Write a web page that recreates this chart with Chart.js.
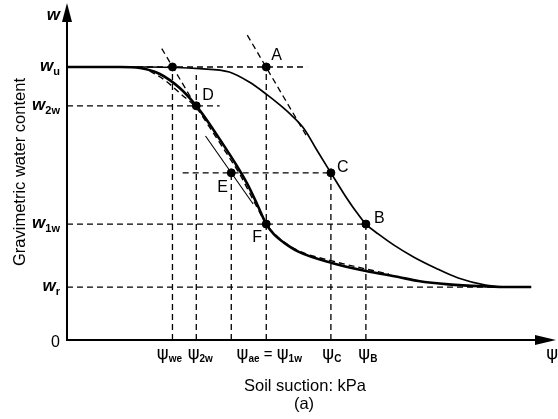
<!DOCTYPE html>
<html>
<head>
<meta charset="utf-8">
<script src="https://cdn.jsdelivr.net/npm/chart.js@4"></script>
<style>
  html, body { margin: 0; padding: 0; background: #fff; }
  canvas { display: block; }
</style>
</head>
<body>
<canvas id="swcc" width="558" height="419"></canvas>
<script>
// axis ticks (schematic units, 0..100 on both axes)
const psiTicks = [21.7, 26.6, 41.0, 54.3, 61.5, 100];
const psiLabels = ['ψ_{we}', 'ψ_{2w}', 'ψ_{ae} = ψ_{1w}', 'ψ_{C}', 'ψ_{B}', 'ψ'];
const wTicks = [0, 15.8, 34.6, 69.9, 81.5, 100];
const wLabels = ['0', 'w_{r}', 'w_{1w}', 'w_{2w}', 'w_{u}', 'w'];

// drying (desorption) curve
const dryX = [0, 17, 27.3, 33.4, 37.5, 41.0, 43.6, 46.1, 48.8, 51.4, 54.3, 57.0, 59.4, 61.5, 64.1, 67.2, 71.3, 75.8, 80.5, 86.1, 90.8, 95.5];
const dryY = [81.5, 81.5, 81.0, 80.0, 77.0, 73.4, 70.4, 67.2, 63.0, 56.7, 49.9, 43.6, 38.5, 34.6, 31.6, 28.4, 24.8, 21.5, 18.5, 16.4, 15.8, 15.8];

// wetting (adsorption) curve
const wetX = [0, 10.9, 15.0, 19.1, 23.2, 26.6, 28.9, 31.8, 34.6, 37.1, 39.1, 41.0, 42.6, 44.7, 47.7, 54.5, 61.5, 68.2, 72.3, 78.5, 86.1, 90.8, 95.5];
const wetY = [81.5, 81.5, 81.2, 79.4, 75.2, 69.9, 65.4, 59.1, 52.8, 46.6, 40.6, 34.6, 31.5, 29.0, 26.3, 23.0, 20.6, 18.8, 17.6, 16.6, 16.0, 15.8, 15.8];

// dashed fitted wetting curve
const fitX = [17.0, 20.1, 23.2, 26.6, 29.3, 32.4, 35.5, 37.9, 39.5, 41.0, 44.3, 47.7, 54.5, 61.5, 66.2];
const fitY = [80.3, 77.6, 73.7, 69.3, 63.6, 56.7, 49.6, 43.0, 38.5, 34.6, 29.6, 26.6, 23.6, 21.2, 19.7];

// tangent lines
const tangentWeX = [19.5, 25.8];
const tangentWeY = [87.0, 71.6];
const tangentAX = [37.1, 49.4];
const tangentAY = [91.0, 60.6];
const chordEX = [28.5, 38.3];
const chordEY = [60.9, 40.6];

// dashed guide lines
const hGuideY = [81.5, 69.9, 49.9, 34.6, 15.8];
const hGuideFrom = [0, 0, 23.8, 0, 0];
const hGuideTo = [49.4, 31.4, 54.3, 61.5, 95.5];
const vGuideX = [21.7, 26.6, 33.8, 41.0, 54.3, 61.5];
const vGuideTop = [81.5, 79.1, 49.9, 81.5, 49.9, 34.6];

// marked points
const pointNames = ['', 'A', 'D', 'E', 'C', 'F', 'B'];
const pointX = [21.7, 41.0, 26.6, 33.8, 54.3, 41.0, 61.5];
const pointY = [81.5, 81.5, 69.9, 49.9, 49.9, 34.6, 34.6];

const labelOffset = { A: [5, -7], D: [6, -6], E: [-14, 19], C: [6, -1], F: [-14, 18], B: [8, -1] };
const psiNudge = [-3, 4, 3, 1, 2, 0];
const FONT = '"Liberation Sans", Arial, sans-serif';
const PSI_FONT = '18px "DejaVu Sans", ' + FONT;

const toPts = (xs, ys) => xs.map((v, i) => ({ x: v, y: ys[i] }));

const dashed = (data) => ({
    data, showLine: true, pointRadius: 0, borderColor: '#000', borderWidth: 1.3,
    borderDash: [6, 4], fill: false, order: 5
});

const datasets = [];
hGuideY.forEach((lv, i) => datasets.push(dashed([{ x: hGuideFrom[i], y: lv }, { x: hGuideTo[i], y: lv }])));
vGuideX.forEach((xv, i) => datasets.push(dashed([{ x: xv, y: 0 }, { x: xv, y: vGuideTop[i] }])));
datasets.push(dashed(toPts(tangentWeX, tangentWeY)));
datasets.push(dashed(toPts(tangentAX, tangentAY)));
datasets.push({ ...dashed(toPts(fitX, fitY)), cubicInterpolationMode: 'monotone', borderWidth: 1.4, order: 3 });
datasets.push({
    data: toPts(chordEX, chordEY), showLine: true, pointRadius: 0,
    borderColor: '#000', borderWidth: 1.1, order: 4
});
datasets.push({
    data: toPts(dryX, dryY), showLine: true, pointRadius: 0, borderColor: '#000',
    borderWidth: 1.7, cubicInterpolationMode: 'monotone', order: 2
});
datasets.push({
    data: toPts(wetX, wetY), showLine: true, pointRadius: 0, borderColor: '#000',
    borderWidth: 2.6, cubicInterpolationMode: 'monotone', order: 2
});
datasets.push({
    data: toPts(pointX, pointY), showLine: false, pointRadius: 4,
    pointBackgroundColor: '#000', pointBorderColor: '#000', order: 1
});

// draws "w_{2w}" style text with subscripts; ψ gets its own font
function drawRich(ctx, str, px, py, align, mainFont, subFont, subDrop) {
    const runs = [];
    str.split(/_\{([^}]*)\}/).forEach((p, i) => {
        if (i % 2) { runs.push({ t: p, f: subFont, dy: subDrop }); return; }
        p.split(/(ψ)/).filter(s => s).forEach(s =>
            runs.push({ t: s, f: s === 'ψ' ? PSI_FONT : mainFont, dy: 0 }));
    });
    runs.forEach(r => { ctx.font = r.f; r.w = ctx.measureText(r.t).width; });
    const total = runs.reduce((s, r) => s + r.w, 0);
    let cx = align === 'right' ? px - total : align === 'center' ? px - total / 2 : px;
    if (cx + total > ctx.canvas.width) cx = ctx.canvas.width - total;
    runs.forEach(r => {
        ctx.font = r.f;
        ctx.fillText(r.t, cx, py + r.dy);
        cx += r.w;
    });
}

const sketchPlugin = {
    id: 'sketch',
    beforeDatasetsDraw(chart) {
        const { ctx, chartArea: a, scales: { x, y } } = chart;
        const x0 = x.getPixelForValue(0), y0 = y.getPixelForValue(0);
        ctx.save();
        ctx.strokeStyle = '#000';
        ctx.fillStyle = '#000';
        ctx.lineWidth = 2;
        ctx.beginPath();
        ctx.moveTo(x0, y0); ctx.lineTo(x0, a.top + 14);
        ctx.moveTo(x0 - 1, y0); ctx.lineTo(a.right - 16, y0);
        ctx.stroke();
        // arrow heads
        ctx.beginPath();
        ctx.moveTo(x0, a.top - 2); ctx.lineTo(x0 - 5, a.top + 17); ctx.lineTo(x0 + 5, a.top + 17);
        ctx.closePath(); ctx.fill();
        ctx.beginPath();
        ctx.moveTo(a.right + 3, y0); ctx.lineTo(a.right - 18, y0 - 5); ctx.lineTo(a.right - 18, y0 + 5);
        ctx.closePath(); ctx.fill();
        ctx.restore();
    },
    afterDatasetsDraw(chart) {
        const { ctx, scales: { x, y } } = chart;
        const x0 = x.getPixelForValue(0), y0 = y.getPixelForValue(0);
        ctx.save();
        ctx.fillStyle = '#000';
        ctx.textAlign = 'left';
        ctx.textBaseline = 'alphabetic';

        // y tick labels
        wTicks.forEach((v, i) => {
            const py = y.getPixelForValue(v);
            if (wLabels[i] === '0') {
                ctx.font = '16px ' + FONT;
                ctx.textAlign = 'right';
                ctx.fillText('0', x0 - 7, py + 7);
                ctx.textAlign = 'left';
            } else {
                drawRich(ctx, wLabels[i], x0 - 7, py + (v === 100 ? 15 : 4), 'right',
                    'italic bold 17px ' + FONT, 'bold 11px ' + FONT, 4);
            }
        });

        // x tick labels
        psiTicks.forEach((v, i) => {
            const px = x.getPixelForValue(v);
            drawRich(ctx, psiLabels[i], px + psiNudge[i], y0 + 19, 'center', '15px ' + FONT, 'bold 10px ' + FONT, 3);
        });

        // point labels
        ctx.font = '16px ' + FONT;
        pointNames.forEach((n, i) => {
            if (!n) return;
            const off = labelOffset[n];
            ctx.fillText(n, x.getPixelForValue(pointX[i]) + off[0], y.getPixelForValue(pointY[i]) + off[1]);
        });

        // axis titles
        ctx.font = '16.5px ' + FONT;
        ctx.textAlign = 'center';
        ctx.fillText('Soil suction: kPa', 305, 391);
        ctx.fillText('(a)', 304, 409);
        ctx.translate(20, 172);
        ctx.rotate(-Math.PI / 2);
        ctx.textBaseline = 'middle';
        ctx.fillText('Gravimetric water content', 0, 0);
        ctx.restore();
    }
};

new Chart(document.getElementById('swcc'), {
    type: 'scatter',
    data: { datasets },
    options: {
        responsive: false,
        animation: false,
        devicePixelRatio: 1,
        layout: { padding: { left: 67, right: 3, top: 5, bottom: 79 } },
        scales: {
            x: { type: 'linear', min: 0, max: 100, display: false },
            y: { type: 'linear', min: 0, max: 100, display: false }
        },
        plugins: { legend: { display: false }, tooltip: { enabled: false } },
        elements: { line: { tension: 0 } }
    },
    plugins: [sketchPlugin]
});
</script>
</body>
</html>
